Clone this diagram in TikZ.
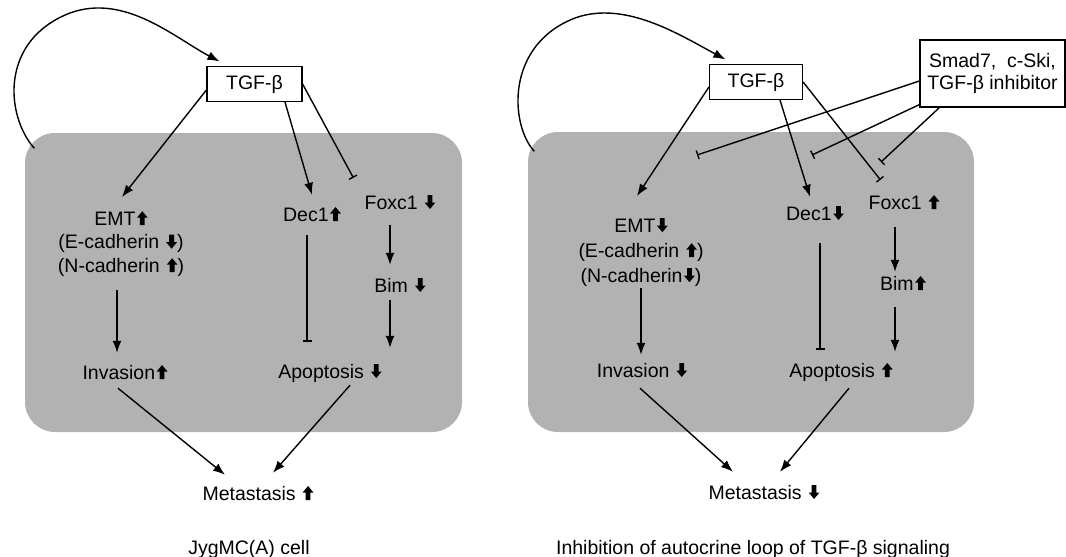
\documentclass[tikz,border=0pt]{standalone}
\usepackage{fontspec}
\setmainfont{Liberation Sans}
\usetikzlibrary{arrows.meta}

% block arrows used in the labels
\newcommand{\upa}{\hspace{1.5pt}\tikz[x=1pt,y=1pt,baseline=0pt]\fill (-2.4,0) -- (2.4,0) -- (2.4,7.5) -- (5.4,7.5) -- (0,14) -- (-5.4,7.5) -- (-2.4,7.5) -- cycle;}
\newcommand{\dna}{\hspace{1.5pt}\tikz[x=1pt,y=1pt,baseline=0pt]\fill (-2.4,14) -- (2.4,14) -- (2.4,6.5) -- (5.4,6.5) -- (0,0) -- (-5.4,6.5) -- (-2.4,6.5) -- cycle;}

\begin{document}
\begin{tikzpicture}[
    x=1pt, y=-1pt,
    font=\fontsize{19.5}{22}\selectfont,
    line width=1.4pt,
    box/.style={draw, line width=1.2pt, inner sep=0pt, align=center},
    txt/.style={inner sep=0pt, text height=14pt, text depth=0pt},
    multi/.style={inner sep=0pt, align=center, anchor=north},
    cell/.style={fill=black!30, rounded corners=30pt, inner sep=0pt},
    act/.style={-{Latex[length=12pt, width=9pt]}},
    inh/.style={-{Bar[width=9pt]}}
]
    \useasboundingbox (0,0) rectangle (1066,557);

    % --- Left: JygMC(A) cell ---
    \node[cell, minimum width=437pt, minimum height=299pt] (cellL) at (243.5,282.5) {};

    \node[box, minimum width=95pt, minimum height=35pt] (tgfL) at (254.5,84) {TGF-β};
    \node[multi, font=\fontsize{19.5}{23.5}\selectfont] (emtL) at (121,211) {EMT\upa\\(E-cadherin \dna)\\(N-cadherin \upa)};
    \node[txt] (dec1L)  at (312,214) {Dec1\upa};
    \node[txt] (foxc1L) at (400,202) {Foxc1 \dna};
    \node[txt] (bimL)   at (400,285) {Bim \dna};
    \node[txt] (invL)   at (125,372) {Invasion\upa};
    \node[txt] (apoL)   at (330,371) {Apoptosis \dna};
    \node[txt] (metL)   at (258,493) {Metastasis \upa};
    \node[txt] (capL)   at (249,547) {JygMC(A) cell};

    % autocrine loop
    \draw[act] ([shift={(10pt,-16pt)}]cellL.north west) .. controls (5,115) and (0,40) .. (70,13)
        .. controls (125,-7) and (175,38) .. ([shift={(13pt,4.5pt)}]tgfL.north west);

    \draw[act] ([yshift=-6pt]tgfL.west) -- ([shift={(1pt,14pt)}]emtL.north);
    \draw[act] ([xshift=30.5pt]tgfL.south) -- ([yshift=12pt]dec1L.north);
    \draw[inh] (tgfL.east) -- ([shift={(-11pt,17pt)}]foxc1L.north west);

    \draw[act, shorten <=15.5pt, shorten >=13pt] ([xshift=-10pt]foxc1L.south) -- ([xshift=-10pt]foxc1L.south |- bimL.north);
    \draw[act, shorten <=8pt, shorten >=16pt] ([xshift=-10pt]bimL.south) -- ([xshift=-10pt]bimL.south |- apoL.north);
    \draw[inh, shorten <=13.5pt, shorten >=22pt] ([xshift=-5pt]dec1L.south) -- ([xshift=-5pt]dec1L.south |- apoL.north);
    \draw[act, shorten <=14pt, shorten >=12pt] ([xshift=-4pt]emtL.south) -- ([xshift=-4pt]emtL.south |- invL.north);

    \draw[act] ([shift={(-7pt,-9pt)}]invL.south) -- ([shift={(-33pt,11pt)}]metL.north);
    \draw[act] ([shift={(20pt,-7pt)}]apoL.south) -- ([shift={(15pt,13pt)}]metL.north);

    % --- Right: inhibition of the loop ---
    \node[cell, minimum width=446pt, minimum height=300pt] (cellR) at (751,282) {};

    \node[box, minimum width=93pt, minimum height=35pt] (tgfR) at (756,82) {TGF-β};
    \node[box, minimum width=145pt, minimum height=67pt, font=\fontsize{19.5}{21.5}\selectfont] (smad) at (992.5,73.5) {Smad7,\ \ c-Ski,\\TGF-β inhibitor};
    \node[multi, font=\fontsize{19.5}{25}\selectfont] (emtR) at (641,218) {EMT\dna\\(E-cadherin \upa)\\(N-cadherin\dna)};
    \node[txt] (dec1R)  at (815,213) {Dec1\dna};
    \node[txt] (foxc1R) at (904,202) {Foxc1 \upa};
    \node[txt] (bimR)   at (903,283) {Bim\upa};
    \node[txt] (invR)   at (642,370) {Invasion \dna};
    \node[txt] (apoR)   at (841,370) {Apoptosis \upa};
    \node[txt] (metR)   at (764,492) {Metastasis \dna};
    \node[txt] (capR)   at (753,547) {Inhibition of autocrine loop of TGF-β signaling};

    % blocked points of the three TGF-beta branches
    \coordinate (blkEMT) at (697,155);
    \coordinate (blkDec) at (812,155);
    \coordinate (blkFox) at (881,162);

    % autocrine loop
    \draw[act] ([shift={(7pt,-20pt)}]cellR.north west) .. controls (510,125) and (505,45) .. (575,18)
        .. controls (625,0) and (680,35) .. ([shift={(16.5pt,4.5pt)}]tgfR.north west);

    \draw[act] ([yshift=-5pt]tgfR.west) -- ([shift={(-4pt,22pt)}]emtR.north);
    \draw[act] ([xshift=24pt]tgfR.south) -- ([shift={(-5pt,9pt)}]dec1R.north);
    \draw[inh] (tgfR.east) -- ([shift={(12pt,15pt)}]foxc1R.north west);

    \draw[inh] ([yshift=-7.5pt]smad.west) -- (blkEMT);
    \draw[inh] ([yshift=3pt]smad.south west) -- (blkDec);
    \draw[inh] ([xshift=20pt]smad.south west) -- (blkFox);

    \draw[act, shorten <=17.5pt, shorten >=4pt] ([xshift=-9pt]foxc1R.south) -- ([xshift=-9pt]foxc1R.south |- bimR.north);
    \draw[act, shorten <=17pt, shorten >=11pt] ([xshift=-8pt]bimR.south) -- ([xshift=-8pt]bimR.south |- apoR.north);
    \draw[inh, shorten <=23pt, shorten >=13pt] ([xshift=5pt]dec1R.south) -- ([xshift=5pt]dec1R.south |- apoR.north);
    \draw[act, shorten <=2pt, shorten >=8pt] (emtR.south) -- (emtR.south |- invR.north);

    \draw[act] ([shift={(-2pt,-11pt)}]invR.south) -- ([shift={(-31pt,13pt)}]metR.north);
    \draw[act] ([shift={(8pt,-11pt)}]apoR.south) -- ([shift={(16pt,13pt)}]metR.north);

\end{tikzpicture}
\end{document}
